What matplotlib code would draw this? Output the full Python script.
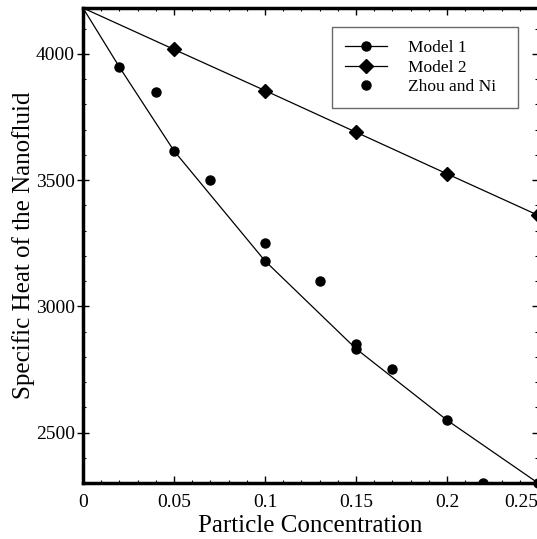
import matplotlib
matplotlib.use("Agg")
import matplotlib.pyplot as plt
from matplotlib.ticker import MultipleLocator, FixedLocator

plt.rcParams['font.family'] = ['Liberation Serif', 'DejaVu Serif']

# Data
model1_x = [0.0, 0.02, 0.05, 0.10, 0.15, 0.20, 0.25]
model1_y = [4182, 3948, 3616, 3180, 2832, 2549, 2300]
model2_x = [0.0, 0.05, 0.10, 0.15, 0.20, 0.25]
model2_y = [4182, 4018, 3855, 3690, 3525, 3361]
zhou_x = [0.04, 0.07, 0.10, 0.13, 0.15, 0.17, 0.22]
zhou_y = [3850, 3500, 3250, 3100, 2850, 2750, 2300]

xticks = [0, 0.05, 0.1, 0.15, 0.2, 0.25]
xticklabels = ['0', '0.05', '0.1', '0.15', '0.2', '0.25']
yticks = [2500, 3000, 3500, 4000]

W, H = 537, 539
fig = plt.figure(figsize=(W / 100, H / 100), dpi=100)
left, right, top, bottom = 83, 538.0, 8, 483
ax = fig.add_axes([left / W, 1 - bottom / H, (right - left) / W, (bottom - top) / H])

ax.plot(model1_x, model1_y, color='black', lw=0.9, marker='o', ms=6.5,
        markevery=list(range(1, len(model1_x))), label='Model 1', clip_on=False)
ax.plot(model2_x, model2_y, color='black', lw=0.9, marker='D', ms=7,
        markevery=list(range(1, len(model2_x))), label='Model 2', clip_on=False)
ax.plot(zhou_x, zhou_y, linestyle='none', color='black', marker='o', ms=6.5,
        label='Zhou and Ni')

ax.set_xlim(0, 0.25)
ax.set_ylim(2300, 4182)

ax.xaxis.set_major_locator(FixedLocator(xticks))
ax.set_xticklabels(xticklabels)
ax.get_xticklabels()[-1].set_horizontalalignment('right')
ax.xaxis.set_minor_locator(MultipleLocator(0.01))
ax.yaxis.set_major_locator(FixedLocator(yticks))
ax.yaxis.set_minor_locator(MultipleLocator(100))

ax.tick_params(axis='x', which='major', direction='in', length=5, width=1,
               top=True, labelsize=14, pad=8)
ax.tick_params(axis='x', which='minor', direction='in', length=2.5, width=0.8, top=True)
ax.tick_params(axis='y', which='major', direction='inout', length=8, width=1,
               right=True, labelsize=14, pad=2)
ax.tick_params(axis='y', which='minor', direction='in', length=2.5, width=0.8, right=True)

for s in ['left', 'bottom', 'top']:
    ax.spines[s].set_linewidth(2.5)
ax.spines['right'].set_linewidth(1)

ax.set_xlabel('Particle Concentration', fontsize=18, labelpad=2.5)
ax.set_ylabel('Specific Heat of the Nanofluid', fontsize=18, labelpad=0.7)

leg = ax.legend(loc='upper left',
                bbox_to_anchor=(332 / W, 1 - 104 / H, 186 / W, 77 / H),
                bbox_transform=fig.transFigure, mode='expand',
                fontsize=12.5, frameon=True,
                fancybox=False, edgecolor='#444444', handlelength=2.4,
                handletextpad=1.2, borderpad=0.75, labelspacing=0.2,
                borderaxespad=0)
leg.get_frame().set_linewidth(1)

fig.savefig('out.png', dpi=100)
